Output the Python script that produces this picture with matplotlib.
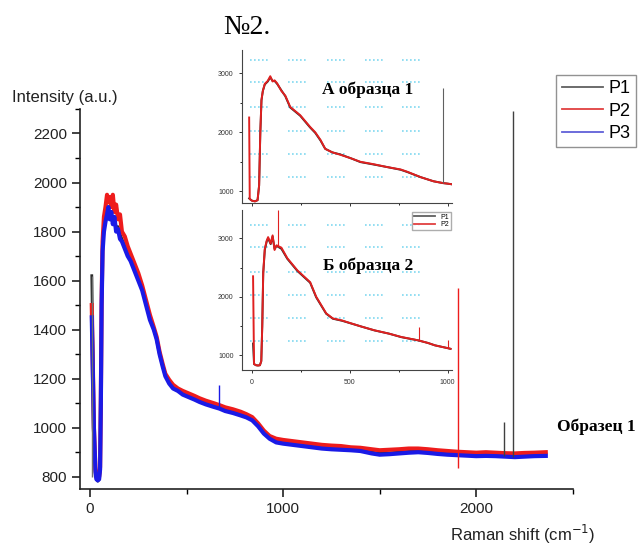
import numpy as np
import matplotlib
matplotlib.use("Agg")
import matplotlib.pyplot as plt
from matplotlib.lines import Line2D

plt.rcParams['font.family'] = ['Liberation Sans', 'DejaVu Sans']

# ---- main spectra (Raman shift, cm-1) ----
shift = [9, 20, 28, 33, 40, 47, 52, 56, 60, 65, 72, 80, 88, 95, 102, 110, 118, 126, 135, 145,
         155, 165, 180, 195, 210, 230, 250, 270, 290, 310, 330, 345, 360, 376, 390, 410, 430, 455, 480, 510,
         540, 567, 600, 640, 670, 700, 740, 780, 810, 840, 870, 900, 930, 964, 1000, 1050, 1100, 1150, 1200, 1250,
         1300, 1350, 1400, 1459, 1500, 1550, 1600, 1650, 1700, 1750, 1800, 1850, 1900, 1950, 2000, 2050, 2100, 2150, 2200, 2250,
         2300, 2360]
p1 = [1620, 1000, 815, 788, 782, 788, 828, 1100, 1510, 1740, 1820, 1850, 1890, 1880, 1870, 1870, 1850, 1850, 1820, 1820,
      1790, 1770, 1740, 1710, 1690, 1650, 1610, 1565, 1505, 1445, 1405, 1362, 1303, 1252, 1212, 1185, 1165, 1152, 1140, 1130,
      1120, 1110, 1100, 1090, 1082, 1072, 1064, 1055, 1046, 1034, 1010, 980, 958, 944, 938, 933, 928, 923, 918, 915,
      913, 911, 908, 900, 895, 897, 900, 903, 905, 902, 898, 895, 893, 890, 889, 890, 888, 886, 885, 887,
      889, 890]
p2 = [1500, 1000, 830, 800, 795, 800, 840, 1120, 1520, 1760, 1860, 1900, 1950, 1920, 1940, 1900, 1950, 1880, 1910, 1850,
      1870, 1800, 1780, 1740, 1710, 1670, 1630, 1580, 1520, 1460, 1410, 1370, 1310, 1260, 1220, 1195, 1175, 1160, 1150, 1140,
      1130, 1120, 1110, 1100, 1092, 1083, 1075, 1065, 1055, 1043, 1018, 988, 966, 955, 950, 945, 940, 935, 930, 927,
      925, 920, 918, 912, 908, 910, 912, 915, 915, 912, 908, 905, 902, 900, 898, 900, 898, 896, 895, 897,
      898, 900]
p3 = [1450, 1000, 820, 790, 785, 790, 830, 1100, 1500, 1720, 1800, 1840, 1870, 1900, 1850, 1880, 1830, 1860, 1800, 1810,
      1770, 1760, 1730, 1700, 1680, 1640, 1600, 1560, 1500, 1440, 1400, 1360, 1300, 1250, 1210, 1180, 1160, 1150, 1135, 1125,
      1115, 1105, 1095, 1085, 1078, 1068, 1060, 1050, 1042, 1030, 1006, 976, 955, 940, 935, 930, 925, 920, 915, 912,
      910, 908, 905, 895, 890, 892, 895, 898, 900, 897, 893, 890, 888, 886, 884, 885, 884, 882, 880, 882,
      884, 885]

# narrow spikes (position, low, high)
p1_spike_x = [2144, 2190]
p1_spike_lo = [885, 880]
p1_spike_hi = [1024, 2290]
p2_spike_x = [1907]
p2_spike_lo = [837]
p2_spike_hi = [1570]
p3_spike_x = [670]
p3_spike_lo = [1080]
p3_spike_hi = [1175]

# ---- inset A (sample 1) ----
a_shift = [-15, -12, 0, 15, 28, 36, 42, 48, 55, 65, 80, 93, 105, 115, 128, 150, 170, 195, 246, 297,
           323, 350, 374, 410, 451, 505, 554, 620, 692, 760, 795, 862, 928, 975, 1000, 1020]
a_p1 = [880, 870, 840, 830, 850, 1100, 1980, 2540, 2700, 2810, 2860, 2930, 2870, 2870, 2820, 2710, 2610, 2420, 2280, 2080,
        1990, 1860, 1720, 1660, 1625, 1560, 1495, 1455, 1410, 1365, 1325, 1240, 1170, 1140, 1130, 1120]
a_p2 = [2250, 870, 840, 830, 850, 1100, 2000, 2550, 2700, 2820, 2870, 2950, 2860, 2880, 2830, 2700, 2620, 2430, 2290, 2090,
        2000, 1870, 1720, 1660, 1620, 1560, 1500, 1460, 1410, 1370, 1330, 1240, 1170, 1140, 1130, 1120]
a_p1_spike_x = [975]
a_p1_spike_lo = [1140]
a_p1_spike_hi = [2750]

# ---- inset B (sample 2) ----
b_shift = [5, 10, 20, 30, 40, 47, 52, 57, 65, 75, 82, 95, 105, 115, 125, 150, 180, 232, 297, 328,
           379, 413, 460, 505, 560, 626, 700, 763, 849, 900, 935, 1003, 1015]
b_p1 = [1200, 850, 830, 825, 830, 900, 1500, 2400, 2800, 2950, 3000, 2900, 3030, 2820, 2870, 2820, 2650, 2440, 2240, 1990,
        1710, 1625, 1590, 1545, 1490, 1425, 1370, 1310, 1255, 1210, 1170, 1120, 1110]
b_p2 = [2350, 850, 830, 825, 830, 900, 1500, 2420, 2820, 2960, 3020, 2910, 3050, 2800, 2880, 2840, 2660, 2450, 2250, 2000,
        1717, 1630, 1595, 1547, 1490, 1427, 1370, 1313, 1256, 1210, 1170, 1120, 1110]
b_p2_spike_x = [135, 856, 1003]
b_p2_spike_lo = [2850, 1260, 1120]
b_p2_spike_hi = [3480, 1484, 1256]

c1, c2, c3 = '#2a2a2a', '#ee1c1c', '#1a1ae6'

fig = plt.figure(figsize=(6.4, 5.46), dpi=100)
ax = fig.add_axes([0.125, 0.1044, 0.770, 0.696])
ax.plot(shift, p1, color=c1, lw=2.0)
ax.plot(shift, p2, color=c2, lw=3.0)
ax.plot(shift, p3, color=c3, lw=3.0)
ax.vlines(p1_spike_x, p1_spike_lo, p1_spike_hi, color='#404040', lw=1.0)
ax.vlines(p2_spike_x, p2_spike_lo, p2_spike_hi, color=c2, lw=1.0)
ax.vlines(p3_spike_x, p3_spike_lo, p3_spike_hi, color=c3, lw=1.0)
ax.vlines(shift[0], 800, p1[0], color='#707070', lw=1.0)

ax.set_xlim(-52, 2500)
ax.set_ylim(750, 2300)
ax.set_xticks([0, 1000, 2000])
ax.set_xticks([500, 1500, 2500], minor=True)
ax.set_yticks(np.arange(800, 2201, 200))
ax.set_yticks(np.arange(900, 2301, 200), minor=True)
ax.tick_params(which='major', direction='out', length=6, width=1.2, labelsize=11, colors='#222222')
ax.tick_params(which='minor', direction='out', length=3.5, width=1.0)
for s in ['top', 'right']:
    ax.spines[s].set_visible(False)
for s in ['left', 'bottom']:
    ax.spines[s].set_linewidth(1.2)
    ax.spines[s].set_color('#222222')

fig.text(0.019, 0.822, 'Intensity (a.u.)', fontsize=12, ha='left', va='center', color='#222222')
fig.text(0.703, 0.022, 'Raman shift (cm$^{-1}$)', fontsize=12, ha='left', va='center', color='#222222')

handles = [Line2D([], [], color='#606060', lw=1.3), Line2D([], [], color='#e04040', lw=1.3),
           Line2D([], [], color='#6060d8', lw=1.3)]
fig.legend(handles, ['P1', 'P2', 'P3'], loc='upper left', bbox_to_anchor=(0.869, 0.863),
           bbox_transform=fig.transFigure, fontsize=13, frameon=True, fancybox=False,
           edgecolor='#777777', handlelength=2.3, borderpad=0.3, labelspacing=0.3,
           handletextpad=0.3, borderaxespad=0)

serif = ['Liberation Serif', 'DejaVu Serif']
fig.text(0.386, 0.949, '№2.', fontsize=20, family=serif, ha='center', va='center')
fig.text(0.870, 0.218, 'Образец 1', fontsize=12.5, family=serif, weight='bold', ha='left', va='center')


def inset(rect, ylim, show_x):
    a = fig.add_axes(rect)
    a.set_xlim(-52, 1025)
    a.set_ylim(*ylim)
    for gx in [41, 236, 431, 626, 815]:
        for gy in [1240, 1630, 2030, 2430, 2850, 3230]:
            a.plot([gx - 50, gx + 50], [gy, gy], ls=(0, (1, 1.4)), color='#80d8f0', lw=1.2)
    a.set_xticks([0, 500, 1000])
    a.set_xticks([250, 750], minor=True)
    a.set_yticks([1000, 2000, 3000])
    a.set_yticks([1500, 2500], minor=True)
    a.tick_params(which='major', direction='out', length=2.5, width=0.7, labelsize=5, colors='#333333')
    a.tick_params(which='minor', direction='out', length=1.5, width=0.6)
    if not show_x:
        a.tick_params(labelbottom=False)
    for s in ['top', 'right']:
        a.spines[s].set_visible(False)
    for s in ['left', 'bottom']:
        a.spines[s].set_linewidth(0.8)
        a.spines[s].set_color('#444444')
    return a


ia = inset([0.378, 0.628, 0.329, 0.280], (800, 3390), False)
ia.plot(a_shift, a_p1, color=c1, lw=1.4, label='P1')
ia.plot(a_shift, a_p2, color='#e02020', lw=1.4, label='P2')
ia.vlines(a_p1_spike_x, a_p1_spike_lo, a_p1_spike_hi, color='#606060', lw=0.8)
ia.text(0.575, 0.835, 'А образца 1', transform=fig.transFigure, fontsize=12.5, family=serif,
        weight='bold', ha='center', va='center')

ib = inset([0.378, 0.322, 0.329, 0.293], (745, 3480), True)
ib.plot(b_shift, b_p1, color=c1, lw=1.4, label='P1')
ib.plot(b_shift, b_p2, color='#e02020', lw=1.4, label='P2')
ib.vlines(b_p2_spike_x, b_p2_spike_lo, b_p2_spike_hi, color='#e02020', lw=0.8)
ib.text(0.575, 0.513, 'Б образца 2', transform=fig.transFigure, fontsize=12.5, family=serif,
        weight='bold', ha='center', va='center')
ib.legend(handles[:2], ['P1', 'P2'], loc='upper right', fontsize=5, frameon=True, fancybox=False,
          edgecolor='#999999', handlelength=3, borderpad=0.3, labelspacing=0.1, borderaxespad=0.2)

fig.savefig('out.png', dpi=100)
